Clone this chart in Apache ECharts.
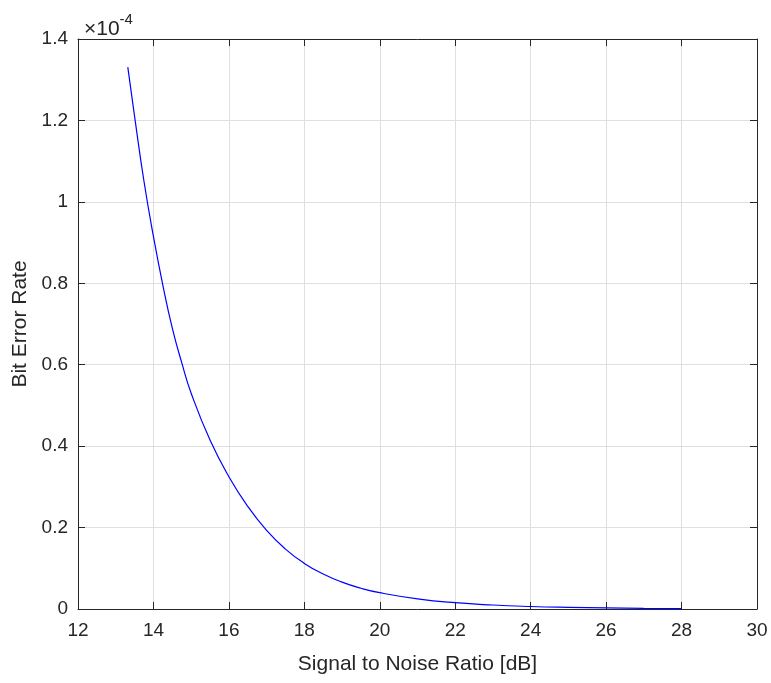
<!DOCTYPE html>
<html>
<head>
<meta charset="utf-8">
<script src="https://cdn.jsdelivr.net/npm/echarts@6/dist/echarts.min.js"></script>
<style>html,body{margin:0;padding:0;background:#fff}#c{width:771px;height:683px}</style>
</head>
<body>
<div id="c"></div>
<script>
// SNR in dB
var snr = [13.32, 13.5, 13.75, 14, 14.25, 14.5, 14.75, 15, 15.5, 16, 16.5, 17, 17.5, 18, 18.5, 19, 19.5, 20, 21, 22, 23, 24, 25, 26, 27, 28];
// Bit error rate, in units of 1e-4
var berE4 = [1.331, 1.21, 1.05, 0.915, 0.795, 0.69, 0.605, 0.53, 0.415, 0.325, 0.252, 0.193, 0.147, 0.112, 0.086, 0.066, 0.051, 0.040, 0.025, 0.0155, 0.0098, 0.0062, 0.0040, 0.0026, 0.0017, 0.0011];
var xTicks = [12, 14, 16, 18, 20, 22, 24, 26, 28, 30];
var yTicks = [0, 0.2, 0.4, 0.6, 0.8, 1, 1.2, 1.4];

var data = snr.map(function (x, i) { return [x, berE4[i]]; });
var font = 'Liberation Sans, Arial, Helvetica, sans-serif';
var axisColor = '#262626';
var chart = echarts.init(document.getElementById('c'));
chart.setOption({
  animation: false,
  backgroundColor: '#fff',
  title: {
    text: '{a|×10}{b|-4}',
    left: 79, top: 7,
    textStyle: {
      rich: {
        a: { fontFamily: font, fontSize: 21, fontWeight: 'normal', color: axisColor, padding: [7, 0, 0, 0] },
        b: { fontFamily: font, fontSize: 15, fontWeight: 'normal', color: axisColor, verticalAlign: 'top' }
      }
    }
  },
  grid: { left: 78, right: 14, top: 39, bottom: 74, containLabel: false, show: false },
  xAxis: [{
    type: 'value', min: 12, max: 30, interval: 2,
    name: 'Signal to Noise Ratio [dB]', nameLocation: 'middle', nameGap: 45,
    nameTextStyle: { fontFamily: font, fontSize: 21, color: axisColor },
    axisLine: { lineStyle: { color: axisColor, width: 1 } },
    axisTick: { inside: true, length: 7, lineStyle: { color: axisColor } },
    axisLabel: { fontFamily: font, fontSize: 19, color: axisColor, margin: 12,
      formatter: function (v) { return xTicks.indexOf(v) >= 0 ? String(v) : ''; } },
    splitLine: { show: true, lineStyle: { color: '#dfdfdf', width: 1 } }
  }, {
    type: 'value', min: 12, max: 30, interval: 2, position: 'top',
    axisLine: { show: true, onZero: false, lineStyle: { color: axisColor, width: 1 } },
    axisTick: { inside: true, length: 7, lineStyle: { color: axisColor } },
    axisLabel: { show: false }, splitLine: { show: false }
  }],
  yAxis: [{
    type: 'value', min: 0, max: 1.4, interval: 0.2,
    name: 'Bit Error Rate', nameLocation: 'middle', nameGap: 45,
    nameTextStyle: { fontFamily: font, fontSize: 21, color: axisColor },
    axisLine: { show: true, lineStyle: { color: axisColor, width: 1 } },
    axisTick: { show: true, inside: true, length: 7, lineStyle: { color: axisColor } },
    axisLabel: { fontFamily: font, fontSize: 19, color: axisColor, margin: 10,
      formatter: function (v) { var r = Math.round(v * 10) / 10; return yTicks.indexOf(r) >= 0 ? String(r) : ''; } },
    splitLine: { show: true, lineStyle: { color: '#dfdfdf', width: 1 } }
  }, {
    type: 'value', min: 0, max: 1.4, interval: 0.2, position: 'right',
    axisLine: { show: true, onZero: false, lineStyle: { color: axisColor, width: 1 } },
    axisTick: { show: true, inside: true, length: 7, lineStyle: { color: axisColor } },
    axisLabel: { show: false }, splitLine: { show: false }
  }],
  series: [{
    type: 'line', data: data, smooth: 0.5, showSymbol: false,
    lineStyle: { color: '#0000ff', width: 1.2 }, z: 3
  }]
});
</script>
</body>
</html>
